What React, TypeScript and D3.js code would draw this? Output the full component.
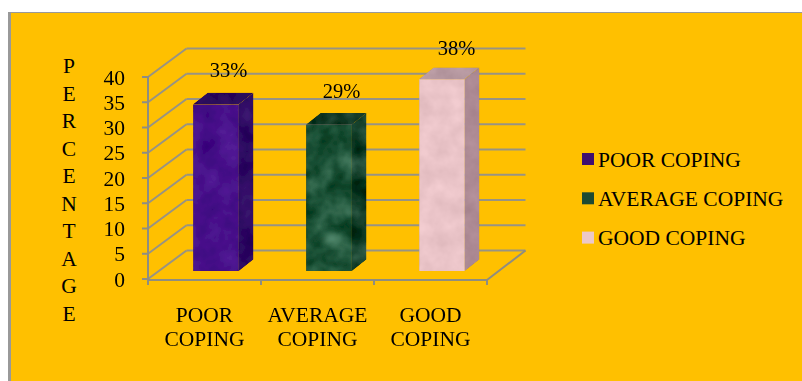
import React from "react";
import * as d3 from "d3";

const categories = ["POOR COPING", "AVERAGE COPING", "GOOD COPING"];
const values = [33, 29, 38];
const yTicks = [0, 5, 10, 15, 20, 25, 30, 35, 40];
const axisTitle = ["P", "E", "R", "C", "E", "N", "T", "A", "G", "E"];
const frontColors = ["#47108a", "#1b5136", "#eac4c8"];
const sideColors = ["#2e0a63", "#0f3b26", "#ad8a94"];
const topColors = ["#2c0a5c", "#0e3522", "#b89aa2"];
const legendColors = ["#3f0f70", "#1d4a33", "#ecc8ca"];
const labelNudge = [0, 0, 3];

const FONT = "'Liberation Serif', 'Times New Roman', serif";
const GRID = "#989383";
const TEXT_SIZE = 21.5;

// Wall depth of the 3-D plot box and the inset and depth of each column
const wallDx = 38.5;
const wallDy = 28.5;
const barInsetX = 11.5;
const barInsetY = 8;
const barDx = 14.5;
const barDy = 11.5;

const x = d3.scaleBand<string>().domain(categories).range([148, 487]);
const y = d3.scaleLinear().domain([0, 40]).range([279, 77]);
const barWidth = x.bandwidth() * 0.405;
const barHeight = (v: number) => y(0) - y(v);

function Texture({ id, seed, freq, strength }: { id: string; seed: number; freq: number; strength: number }) {
  return (
    <filter id={id} x="0" y="0" width="100%" height="100%" colorInterpolationFilters="sRGB">
      <feTurbulence type="fractalNoise" baseFrequency={freq} numOctaves={3} seed={seed} result="n" />
      <feColorMatrix
        in="n"
        type="matrix"
        values="1 0 0 0 0  1 0 0 0 0  1 0 0 0 0  0 0 0 0 1"
        result="g"
      />
      <feComposite in="SourceGraphic" in2="g" operator="arithmetic" k1="0" k2="1" k3={strength} k4={-strength / 2} result="c" />
      <feComposite in="c" in2="SourceAlpha" operator="in" />
    </filter>
  );
}

export default function App() {
  return (
    <svg
      width={802}
      height={381}
      style={{ position: "absolute", left: 0, top: 0, display: "block" }}
      fontFamily={FONT}
    >
      <defs>
        <Texture id="tex0" seed={4} freq={0.05} strength={0.16} />
        <Texture id="tex1" seed={11} freq={0.045} strength={0.38} />
        <Texture id="tex2" seed={7} freq={0.06} strength={0.1} />
        <filter id="soft" x="-5%" y="-5%" width="110%" height="110%">
          <feGaussianBlur stdDeviation="0.45" />
        </filter>
        <filter id="glow" x="-60%" y="-60%" width="220%" height="220%">
          <feGaussianBlur stdDeviation="4" />
        </filter>
      </defs>

      <rect x={0} y={0} width={802} height={381} fill="#ffffff" />
      <rect x={8} y={12} width={794} height={369} fill="#999999" />
      <rect x={11} y={13} width={791} height={368} fill="#ffc000" />

      <g filter="url(#soft)">
        {/* Back wall gridlines and side wall diagonals */}
        {yTicks.map((t) => (
          <g key={t} stroke={GRID} strokeWidth={2} fill="none">
            <line x1={x.range()[0]} y1={y(t)} x2={x.range()[0] + wallDx} y2={y(t) - wallDy} />
            <line x1={x.range()[0] + wallDx} y1={y(t) - wallDy} x2={x.range()[1] + wallDx} y2={y(t) - wallDy} />
            <line x1={x.range()[0] - 6} y1={y(t)} x2={x.range()[0]} y2={y(t)} stroke="#8d8d86" />
          </g>
        ))}

        {/* Floor edge, value axis and category ticks */}
        <g stroke="#8f8d80" strokeWidth={2} fill="none">
          <line x1={x.range()[0]} y1={y(40) - 1} x2={x.range()[0]} y2={y(0) + 6} />
          <line x1={x.range()[0]} y1={y(0) + 1} x2={x.range()[1]} y2={y(0) + 1} />
          <line x1={x.range()[1]} y1={y(0) + 1} x2={x.range()[1] + wallDx} y2={y(0) - wallDy} />
          {categories.map((c) => (
            <line key={c} x1={x(c)! + x.bandwidth()} y1={y(0) + 1} x2={x(c)! + x.bandwidth()} y2={y(0) + 6} />
          ))}
        </g>

        {/* Columns */}
        {categories.map((c, i) => {
          const v = values[i];
          const left = x(c)! + x.bandwidth() / 2 - barWidth / 2 + barInsetX;
          const right = left + barWidth;
          const base = y(0) - barInsetY;
          const top = base - barHeight(v);
          return (
            <g key={c} filter={`url(#tex${i})`}>
              <rect x={left} y={top} width={barWidth} height={base - top} fill={frontColors[i]} />
              <path
                d={`M${right},${top}L${right + barDx},${top - barDy}L${right + barDx},${base - barDy}L${right},${base}Z`}
                fill={sideColors[i]}
              />
              <path
                d={`M${left},${top}L${left + barDx},${top - barDy}L${right + barDx},${top - barDy}L${right},${top}Z`}
                fill={topColors[i]}
              />
            </g>
          );
        })}

        {/* Pale veining low on the marbled middle column */}
        <ellipse
          cx={x(categories[1])! + x.bandwidth() / 2 + barInsetX + 4}
          cy={y(8)}
          rx={13}
          ry={5}
          fill="#7fb59a"
          opacity={0.75}
          filter="url(#glow)"
        />

        {/* Value labels above the columns */}
        {categories.map((c, i) => (
          <text
            key={c}
            x={x(c)! + x.bandwidth() / 2 + barInsetX + 12.5 + (i === 2 ? 2 : 0)}
            y={y(0) - barInsetY - barHeight(values[i]) - 27 + labelNudge[i]}
            fontSize={20.5}
            textAnchor="middle"
            fill="#000"
          >
            {values[i]}%
          </text>
        ))}

        {/* Value axis numbers */}
        {yTicks.map((t) => (
          <text key={t} x={125} y={y(t) + 7.5} fontSize={TEXT_SIZE} textAnchor="end" fill="#000">
            {t}
          </text>
        ))}

        {/* Category labels on two lines */}
        {categories.map((c) => {
          const [a, b] = c.split(" ");
          const cx = x(c)! + x.bandwidth() / 2;
          return (
            <text key={c} x={cx} fontSize={TEXT_SIZE} textAnchor="middle" fill="#000">
              <tspan x={cx} y={322}>{a}</tspan>
              <tspan x={cx} y={345.5}>{b}</tspan>
            </text>
          );
        })}
      </g>

      {/* Vertical axis title, one letter per row */}
      {axisTitle.map((ch, i) => (
        <text key={i} x={69} y={73 + i * 27.5} fontSize={TEXT_SIZE} textAnchor="middle" fill="#000">
          {ch}
        </text>
      ))}

      {/* Legend */}
      {categories.map((c, i) => (
        <g key={c}>
          <rect x={582} y={153 + i * 39.3} width={12} height={12} fill={legendColors[i]} />
          <text x={598} y={167 + i * 39} fontSize={TEXT_SIZE} fill="#000">
            {c}
          </text>
        </g>
      ))}
    </svg>
  );
}
